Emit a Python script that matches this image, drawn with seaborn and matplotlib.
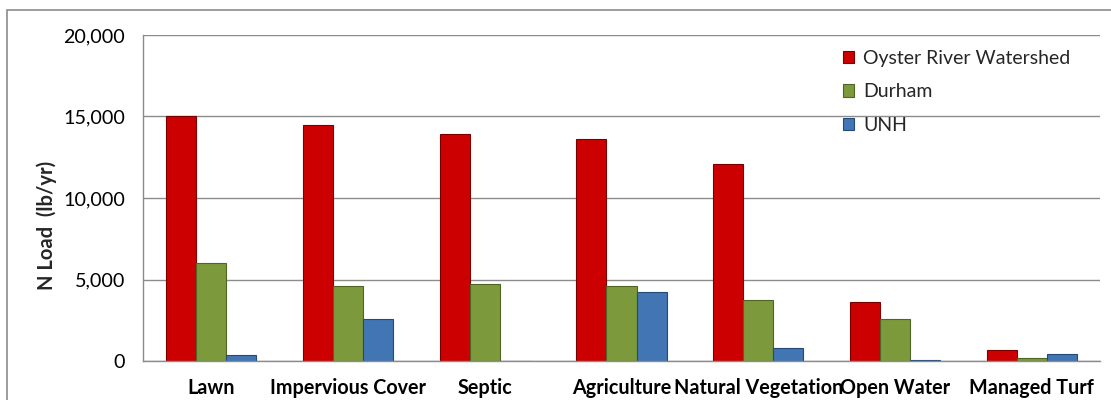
import matplotlib
matplotlib.use("Agg")
import matplotlib.pyplot as plt
import matplotlib.patches as mpatches
from matplotlib.ticker import FuncFormatter, FixedLocator
import seaborn as sns
import pandas as pd

categories = ["Lawn", "Impervious Cover", "Septic", "Agriculture",
              "Natural Vegetation", "Open Water", "Managed Turf"]
oyster_river = [15000, 14450, 13950, 13620, 12100, 3620, 690]
durham = [6000, 4610, 4750, 4580, 3740, 2560, 160]
unh = [350, 2580, 0, 4230, 820, 60, 400]
series_names = ["Oyster River Watershed", "Durham", "UNH"]
y_ticks = [0, 5000, 10000, 15000, 20000]

colors = ["#CC0000", "#7C9A3C", "#4275B4"]
edges = ["#7A0000", "#4F6526", "#244A78"]

rows = []
for name, vals in zip(series_names, [oyster_river, durham, unh]):
    for cat, v in zip(categories, vals):
        rows.append({"category": cat, "load": v, "area": name})
df = pd.DataFrame(rows)

sns.set_style("white")
plt.rcParams["font.family"] = ["Lato", "DejaVu Sans"]

fig = plt.figure(figsize=(11.11, 4.0), dpi=100)
ax = fig.add_axes([143 / 1111, 1 - 361 / 400, (1100 - 143) / 1111, (361 - 35) / 400])

sns.barplot(data=df, x="category", y="load", hue="area", order=categories,
            hue_order=series_names, palette=colors, width=0.66, gap=0,
            saturation=1, legend=False, ax=ax)

# darker outline per series
for container, ec in zip(ax.containers, edges):
    for bar in container:
        bar.set_edgecolor(ec)
        bar.set_linewidth(0.8)

ax.set_ylim(0, 20000)
ax.set_xlim(-0.5, len(categories) - 0.5)
ax.set_yticks(y_ticks)
ax.yaxis.set_major_formatter(FuncFormatter(lambda v, p: f"{int(v):,}"))
ax.grid(axis="y", color="#8C8C8C", linewidth=1.0)
ax.set_axisbelow(True)

ax.xaxis.set_major_locator(FixedLocator([i - 0.5 for i in range(len(categories) + 1)]))
ax.set_xticklabels([""] * (len(categories) + 1))
for i, cat in enumerate(categories):
    ax.text(i, -0.083, cat, transform=ax.get_xaxis_transform(), ha="center",
            va="center", fontsize=14.2, fontweight="bold", color="#000000")

ax.tick_params(axis="x", length=6, width=1, color="#8C8C8C", direction="out")
ax.tick_params(axis="y", length=7, width=1, color="#8C8C8C", direction="out",
               labelsize=14.2, pad=6)
for t in ax.get_yticklabels():
    t.set_color("#000000")

for s in ["top", "right"]:
    ax.spines[s].set_visible(False)
for s in ["left", "bottom"]:
    ax.spines[s].set_color("#8C8C8C")
    ax.spines[s].set_linewidth(1.0)

ax.set_xlabel("")
ax.set_ylabel("N Load  (lb/yr)", fontsize=14.5, fontweight="bold")
ax.yaxis.set_label_coords(-0.09, 0.417)

handles = [mpatches.Patch(facecolor=c, edgecolor=e, linewidth=0.8)
           for c, e in zip(colors, edges)]
fig.legend(handles, series_names, loc="upper left",
           bbox_to_anchor=(833 / 1111, 1 - 40 / 400), frameon=False,
           fontsize=14, handlelength=0.6, handleheight=0.6,
           handletextpad=0.45, labelspacing=0.85, borderpad=0)

# chart frame
fig.patches.append(mpatches.Rectangle((7 / 1111, -0.05), 1.1, 1 - 10 / 400 + 0.05,
                                      transform=fig.transFigure, fill=False,
                                      edgecolor="#8C8C8C", linewidth=1.2))

fig.savefig("out.png", dpi=100)
